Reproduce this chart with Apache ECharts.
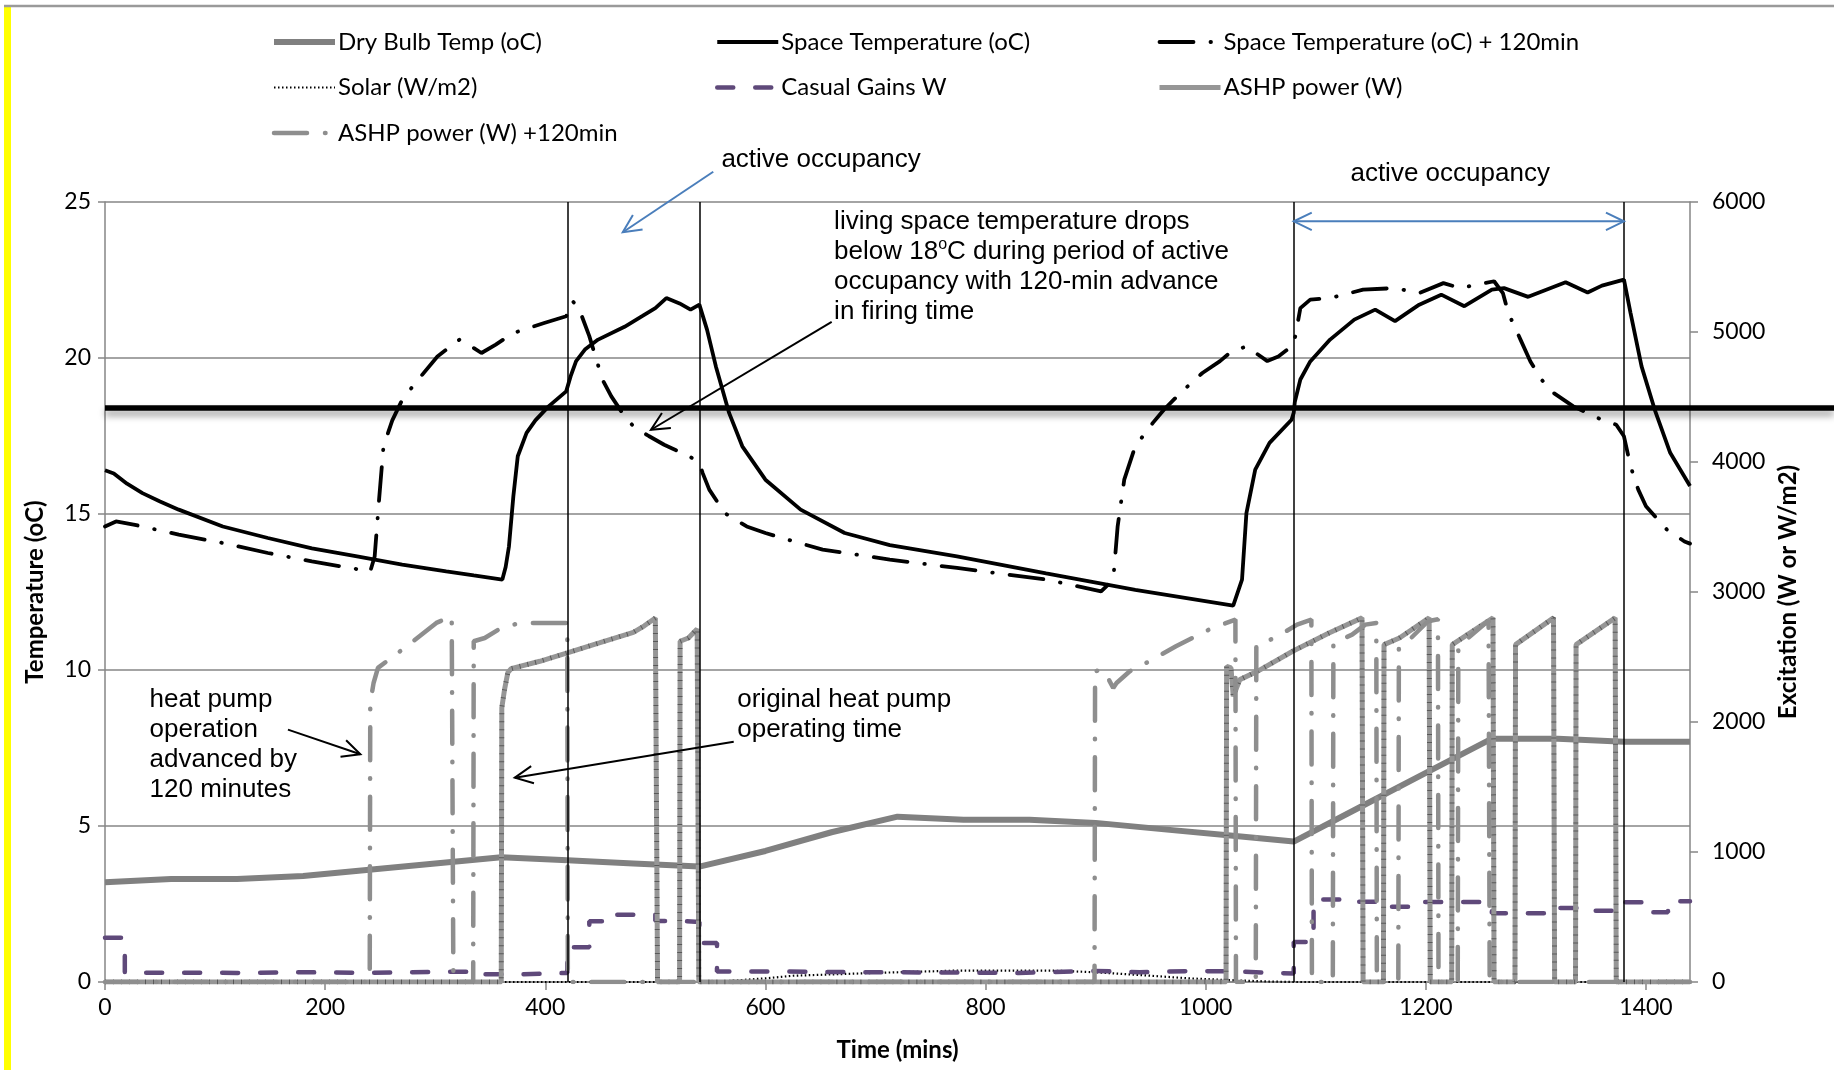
<!DOCTYPE html>
<html>
<head>
<meta charset="utf-8">
<title>Space temperature and ASHP power</title>
<script src="https://cdn.jsdelivr.net/npm/echarts@6/dist/echarts.min.js"></script>
<style>
  html, body { margin: 0; padding: 0; background: #fff; }
  #chart { width: 1834px; height: 1070px; }
</style>
</head>
<body>
<div id="chart"></div>
<script>
// all series are [time (mins), value]
const occupancyLines = [420, 540, 1080, 1380];
const setpointTemp = 18.4;

const dryBulbTemp = [[0,3.2],[60,3.3],[120,3.3],[180,3.4],[240,3.6],[300,3.8],[360,4.0],[420,3.9],[480,3.8],[540,3.7],
  [600,4.2],[660,4.8],[720,5.3],[780,5.2],[840,5.2],[900,5.1],[960,4.9],[1020,4.7],[1080,4.5],[1140,5.6],[1200,6.7],
  [1260,7.8],[1320,7.8],[1380,7.7],[1440,7.7]];

const spaceTemp = [[0,16.4],[8,16.3],[20,15.97],[34,15.67],[50,15.4],[67,15.14],[107,14.6],[148,14.23],[188,13.9],[229,13.64],
  [270,13.38],[310,13.16],[335,13.03],[361,12.9],[364,13.3],[367,13.96],[371,15.57],[375,16.85],[383,17.6],[391,18.0],
  [403,18.45],[419,18.93],[423,19.41],[428,19.9],[436,20.27],[448,20.59],[472,21.0],[488,21.34],[500,21.6],[510,21.92],
  [522,21.75],[532,21.55],[540,21.71],[547,20.9],[555,19.73],[567,18.24],[579,17.17],[600,16.1],[632,15.14],[672,14.39],
  [713,14.0],[774,13.64],[855,13.1],[936,12.57],[1025,12.06],[1033,12.9],[1037,15.03],[1045,16.42],[1058,17.28],[1078,18.02],
  [1080,18.25],[1081,18.6],[1086,19.31],[1095,19.89],[1113,20.59],[1135,21.23],[1154,21.55],[1172,21.18],[1194,21.71],
  [1214,22.03],[1235,21.66],[1260,22.19],[1271,22.24],[1293,21.96],[1327,22.43],[1347,22.1],[1360,22.32],[1380,22.51],
  [1386,21.44],[1396,19.73],[1408,18.34],[1422,16.96],[1440,15.9]];

const spaceTemp120 = [[0,14.6],[10,14.76],[26,14.66],[67,14.34],[107,14.07],[148,13.75],[188,13.48],[241,13.16],[245,13.64],
  [249,15.46],[253,17.17],[261,18.0],[270,18.66],[282,19.2],[302,20.05],[322,20.59],[328,20.48],[342,20.16],[355,20.43],
  [371,20.8],[399,21.12],[419,21.34],[425,21.82],[431,21.55],[440,20.7],[452,19.3],[460,18.77],[470,18.24],[480,17.81],
  [494,17.5],[508,17.22],[531,16.85],[540,16.63],[543,16.31],[549,15.78],[563,15.03],[583,14.6],[600,14.39],[620,14.18],
  [652,13.86],[713,13.54],[774,13.27],[855,12.9],[905,12.52],[916,12.9],[920,14.6],[926,16.1],[936,17.17],[952,17.92],
  [962,18.34],[977,18.88],[997,19.52],[1013,19.9],[1023,20.2],[1037,20.37],[1056,19.9],[1066,20.05],[1078,20.37],[1080,20.43],
  [1086,21.6],[1095,21.87],[1113,21.92],[1143,22.19],[1172,22.24],[1194,22.08],[1216,22.4],[1231,22.24],[1253,22.4],
  [1262,22.46],[1270,22.08],[1275,21.44],[1286,20.59],[1295,19.89],[1305,19.31],[1316,18.88],[1334,18.45],[1356,18.08],
  [1373,17.86],[1380,17.49],[1386,16.53],[1393,15.78],[1400,15.25],[1419,14.5],[1435,14.12],[1440,14.05]];

const solar = [[0,0],[545,0],[570,10],[600,28],[625,48],[700,70],[775,88],[860,88],[900,75],[950,48],[985,28],[1020,15],
  [1060,3],[1080,0],[1440,0]];

// step values, each held until the next time
const casualGains = [[0,340],[18,72],[60,70],[120,75],[180,70],[240,78],[300,80],[340,60],[380,70],[420,267],[440,467],
  [460,518],[500,470],[520,462],[540,300],[556,80],[620,75],[700,72],[780,70],[830,85],[900,75],[940,85],[990,80],[1030,65],
  [1080,308],[1098,634],[1135,618],[1160,578],[1195,615],[1260,528],[1316,570],[1345,549],[1375,613],[1400,536],[1420,621],
  [1440,621]];

const ashpPower = [[0,0],[360,0],[360.5,2108],[363,2250],[366,2380],[369,2410],[395,2467],[420,2532],[449,2608],[480,2690],
  [490,2740],[500,2800],[502,0],[522,0],[522.5,2621],[530,2646],[538,2716],[539.5,0],[1018.5,0],[1019,2428],[1023,2416],
  [1025,2198],[1027,2240],[1031,2326],[1047,2390],[1079,2544],[1112,2685],[1142,2801],[1143,0],[1161.5,0],[1162,2595],
  [1176,2646],[1203,2801],[1204,0],[1223.5,0],[1224,2595],[1261,2801],[1262,0],[1281,0],[1281.5,2595],[1316,2801],[1317,0],
  [1336,0],[1336.5,2595],[1372,2801],[1373,0],[1440,0]];

const ashpPower120 = [[0,0],[240.5,0],[241,2147],[244,2300],[248,2416],[274,2582],[301,2762],[315,2813],[316.5,0],[334.5,0],
  [335,2621],[345,2646],[360,2724],[377,2762],[420,2762],[420.5,0],[899,0],[899.5,2390],[906,2403],[912,2326],[916,2262],
  [919,2300],[931,2390],[946,2455],[973,2582],[988,2647],[1003,2711],[1027,2788],[1027.5,0],[1045.5,0],[1046,2595],
  [1053,2608],[1068,2672],[1083,2749],[1096,2788],[1096.5,0],[1115.5,0],[1116,2608],[1133,2672],[1145,2749],[1155,2762],
  [1155.5,0],[1175,0],[1175.5,2570],[1182,2608],[1202,2775],[1211,2790],[1211.5,0],[1229,0],[1229.5,2582],[1257,2780],
  [1258,0],[1440,0]];

const calibri = 'Lato';
const arial = '"Liberation Sans", Arial, sans-serif';
const gridGray = '#868686';

const chartInstance = echarts.init(document.getElementById('chart'));

function lineSeries(name, data, yAxisIndex, lineStyle, extra) {
  return Object.assign({
    name: name, type: 'line', data: data, yAxisIndex: yAxisIndex,
    symbol: 'none', silent: true, lineStyle: lineStyle,
    itemStyle: { color: lineStyle.color }
  }, extra || {});
}
function plainNumber(v) { return String(v); }

const legendBase = {
  orient: 'vertical',
  top: 23,
  itemWidth: 61,
  itemHeight: 14,
  itemGap: 17.5,
  selectedMode: false,
  itemStyle: { opacity: 0 },
  lineStyle: { width: 'inherit' },
  textStyle: { fontFamily: calibri, fontSize: 24, color: '#000', lineHeight: 28, padding: [0, 0, 0, -2] }
};

const initOption = {
  animation: false,
  backgroundColor: '#fff',
  legend: [
    Object.assign({}, legendBase, { left: 266, data: ['Dry Bulb Temp (oC)', 'Solar (W/m2)', 'ASHP power (W) +120min'] }),
    Object.assign({}, legendBase, { left: 710, data: ['Space Temperature (oC)', 'Casual Gains W'] }),
    Object.assign({}, legendBase, { left: 1152, data: ['Space Temperature (oC) + 120min', 'ASHP power (W)'] })
  ],
  grid: { left: 105, right: 144, top: 202, bottom: 88, containLabel: false },
  xAxis: {
    type: 'value', min: 0, max: 1440, interval: 200,
    name: 'Time (mins)', nameLocation: 'middle', nameGap: 56,
    nameTextStyle: { fontFamily: calibri, fontWeight: 'bold', fontSize: 24, color: '#000' },
    axisLine: { lineStyle: { color: gridGray, width: 1.5 } },
    axisTick: { length: 8, lineStyle: { color: gridGray, width: 1.5 } },
    axisLabel: { fontFamily: calibri, fontSize: 23, color: '#000', margin: 14, showMaxLabel: false, formatter: plainNumber },
    splitLine: { show: false }
  },
  yAxis: [{
    type: 'value', min: 0, max: 25, interval: 5,
    name: 'Temperature (oC)', nameLocation: 'middle', nameGap: 58,
    nameTextStyle: { fontFamily: calibri, fontWeight: 'bold', fontSize: 24, color: '#000' },
    axisLine: { show: true, lineStyle: { color: gridGray, width: 1.5 } },
    axisTick: { show: true, length: 7, lineStyle: { color: gridGray, width: 1.5 } },
    axisLabel: { fontFamily: calibri, fontSize: 23, color: '#000', margin: 14, formatter: plainNumber },
    splitLine: { lineStyle: { color: gridGray, width: 1.5 } }
  }, {
    type: 'value', min: 0, max: 6000, interval: 1000, position: 'right',
    name: 'Excitation (W or W/m2)', nameLocation: 'middle', nameGap: 86,
    nameTextStyle: { fontFamily: calibri, fontWeight: 'bold', fontSize: 24, color: '#000' },
    axisLine: { show: true, lineStyle: { color: gridGray, width: 1.5 } },
    axisTick: { show: true, length: 8, lineStyle: { color: gridGray, width: 1.5 } },
    axisLabel: { fontFamily: calibri, fontSize: 23, color: '#000', margin: 22, formatter: plainNumber },
    splitLine: { show: false }
  }],
  series: [
    lineSeries('Dry Bulb Temp (oC)', dryBulbTemp, 0, { color: '#808080', width: 6 }, {
      markLine: {
        silent: true, symbol: 'none', label: { show: false },
        lineStyle: { color: '#000', width: 1.5, type: 'solid' },
        data: occupancyLines.map(function (v) { return { xAxis: v }; })
      }
    }),
    lineSeries('Solar (W/m2)', solar, 1, { color: '#000', width: 2.2, type: [1.5, 2.5] }),
    lineSeries('Casual Gains W', casualGains, 1, { color: '#5f497a', width: 4.5, type: [16, 22], cap: 'round' }, { step: 'end' }),
    lineSeries('ASHP power (W)', ashpPower, 1, { color: '#969696', width: 5 }),
    lineSeries('ASHP hatch', ashpPower, 1, { color: 'rgba(40,40,40,0.55)', width: 5, type: [1, 7] }),
    lineSeries('ASHP power (W) +120min', ashpPower120, 1, { color: '#8e8e8e', width: 4.5, type: [33, 18, 0.5, 18], cap: 'round' }),
    lineSeries('Space Temperature (oC)', spaceTemp, 0, { color: '#000', width: 3.8 }),
    lineSeries('Space Temperature (oC) + 120min', spaceTemp120, 0, { color: '#000', width: 3.8, type: [34, 17, 0.5, 17], cap: 'round' })
  ]
};
chartInstance.setOption(initOption);

// annotations, positioned in data coordinates (mins, oC)
function px(t, temp) {
  return chartInstance.convertToPixel({ xAxisIndex: 0, yAxisIndex: 0 }, [t, temp]);
}
function head(from, to, size) {
  const ang = Math.atan2(to[1] - from[1], to[0] - from[0]);
  const a1 = ang + Math.PI - 0.45, a2 = ang + Math.PI + 0.45;
  return [[to[0] + size * Math.cos(a1), to[1] + size * Math.sin(a1)], to, [to[0] + size * Math.cos(a2), to[1] + size * Math.sin(a2)]];
}
function arrow(p1, p2, color, both) {
  const els = [
    { type: 'line', z: 50, shape: { x1: p1[0], y1: p1[1], x2: p2[0], y2: p2[1] }, style: { stroke: color, lineWidth: 2 } },
    { type: 'polyline', z: 50, shape: { points: head(p1, p2, 20) }, style: { stroke: color, lineWidth: 2, fill: null } }
  ];
  if (both) els.push({ type: 'polyline', z: 50, shape: { points: head(p2, p1, 20) }, style: { stroke: color, lineWidth: 2, fill: null } });
  return els;
}
function label(text, at, rich) {
  return {
    type: 'text', z: 50, x: at[0], y: at[1],
    style: { text: text, font: '26px ' + arial, fill: '#000', verticalAlign: 'middle', textVerticalAlign: 'middle', rich: rich }
  };
}

const plotLeft = px(0, 0)[0];
const setY = px(0, setpointTemp)[1];
const blue = '#4a7ebb';
const sup = { sup: { fontSize: 16, fontFamily: arial, verticalAlign: 'top', lineHeight: 30 } };

let graphic = [
  { type: 'rect', z: 60, shape: { x: 4, y: 7, width: 7, height: 1063 }, style: { fill: '#ffff00' } },
  { type: 'line', z: 60, shape: { x1: 4, y1: 6, x2: 1834, y2: 6 }, style: { stroke: '#9a9a9a', lineWidth: 2.5 } },
  { type: 'line', z: 40, shape: { x1: plotLeft, y1: setY, x2: 1834, y2: setY },
    style: { stroke: '#000', lineWidth: 5.5, shadowBlur: 7, shadowOffsetY: 5, shadowColor: 'rgba(0,0,0,0.4)' } },
  label('active occupancy', px(560, 26.36)),
  label('active occupancy', px(1131.5, 25.91)),
  label('living space temperature drops', px(662.4, 24.38)),
  label('below 18{sup|o}C during period of active', px(662.4, 23.41), sup),
  label('occupancy with 120-min advance', px(662.4, 22.45)),
  label('in firing time', px(662.4, 21.49)),
  label('heat pump', px(40.5, 9.05)),
  label('operation', px(40.5, 8.08)),
  label('advanced by', px(40.5, 7.12)),
  label('120 minutes', px(40.5, 6.16)),
  label('original heat pump', px(574.4, 9.05)),
  label('operating time', px(574.4, 8.08))
];
graphic = graphic
  .concat(arrow(px(552.6, 25.97), px(470.4, 24.03), blue))
  .concat(arrow(px(1080, 24.38), px(1380, 24.38), blue, true))
  .concat(arrow(px(660.2, 21.16), px(496, 17.7), '#000'))
  .concat(arrow(px(166.2, 8.09), px(232, 7.3), '#000'))
  .concat(arrow(px(571.2, 7.7), px(372.3, 6.55), '#000'));

chartInstance.setOption({ graphic: graphic });
</script>
</body>
</html>
